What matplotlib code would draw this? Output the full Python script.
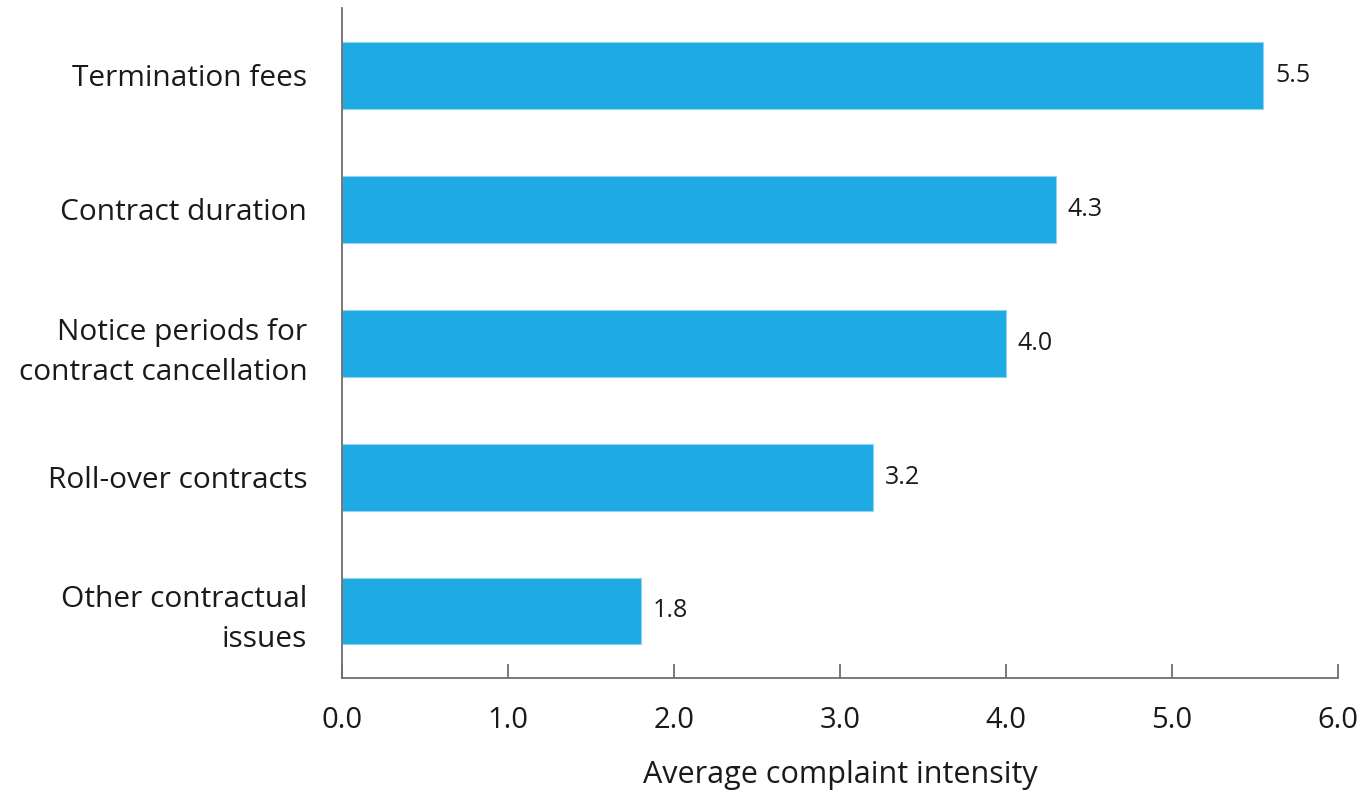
import matplotlib
matplotlib.use("Agg")
import matplotlib.pyplot as plt

categories = ["Termination fees", "Contract duration",
              "Notice periods for\ncontract cancellation",
              "Roll-over contracts", "Other contractual\nissues"]
values = [5.55, 4.3, 4.0, 3.2, 1.8]
value_labels = ["5.5", "4.3", "4.0", "3.2", "1.8"]
x_ticks = [0, 1, 2, 3, 4, 5, 6]

BAR_COLOR = "#1eaae2"
SPINE = "#6e6e6e"
TEXT = "#1a1a1a"

plt.rcParams["font.family"] = ["Open Sans", "DejaVu Sans"]

fig = plt.figure(figsize=(13.66, 7.94), dpi=100)
ax = fig.add_axes([0.2504, 0.1461, 0.7291, 0.8438])

pos = list(range(len(categories)))
ax.barh(pos, values, height=0.5, color=BAR_COLOR, edgecolor="#8fd3f0", linewidth=0.8)
for p, v, lab in zip(pos, values, value_labels):
    ax.text(v + 0.07, p, lab, va="center", ha="left", fontsize=18, color=TEXT)

ax.set_xlim(0, 6)
ax.set_ylim(4.5, -0.5)
ax.set_yticks(pos)
ax.set_yticklabels(categories, fontsize=21.5, color=TEXT, linespacing=1.5, ha="right")
ax.set_xticks(x_ticks)
ax.set_xticklabels([f"{t:.1f}" for t in x_ticks], fontsize=21, color=TEXT)
ax.tick_params(axis="y", length=0, pad=25)
ax.tick_params(axis="x", direction="in", length=10, width=1.3, color=SPINE, pad=20)
ax.set_xlabel("Average complaint intensity", fontsize=22, color=TEXT, labelpad=18)

for s in ["top", "right"]:
    ax.spines[s].set_visible(False)
for s in ["left", "bottom"]:
    ax.spines[s].set_color(SPINE)
    ax.spines[s].set_linewidth(1.3)

fig.savefig("out.png", dpi=100)
